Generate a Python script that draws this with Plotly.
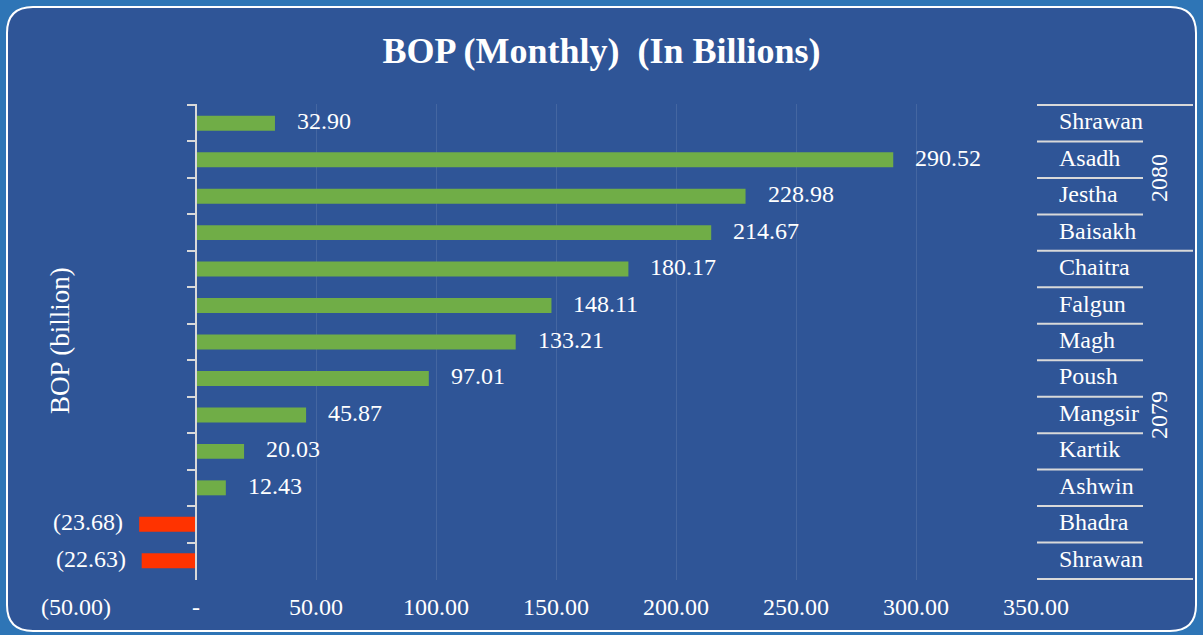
import plotly.graph_objects as go

# ---- data (top to bottom as shown) ----
months = ["Shrawan", "Asadh", "Jestha", "Baisakh", "Chaitra", "Falgun", "Magh",
          "Poush", "Mangsir", "Kartik", "Ashwin", "Bhadra", "Shrawan"]
years = ["2080", "2080", "2080", "2080", "2079", "2079", "2079",
         "2079", "2079", "2079", "2079", "2079", "2079"]
bop = [32.90, 290.52, 228.98, 214.67, 180.17, 148.11, 133.21,
       97.01, 45.87, 20.03, 12.43, -23.68, -22.63]
x_tickvals = [-50, 0, 50, 100, 150, 200, 250, 300, 350]
x_ticktext = ["(50.00)", "-", "50.00", "100.00", "150.00", "200.00", "250.00", "300.00", "350.00"]

W, H = 1203, 635
ML, MR, MT, MB = 76, 167, 104, 55
PW, PH = W - ML - MR, H - MT - MB

def px(x):
    return (x - ML) / PW

def py(y):
    return (H - MB - y) / PH

FONT = "Liberation Serif, Times New Roman, serif"
GREEN = "#70AD47"
RED = "#FF3300"
INNER = "#2F5597"
OUTER = "#2E75B6"
LINE = "#D9D9D9"

cats = [f"{m} {y}" for m, y in zip(months, years)]
colors = [GREEN if v >= 0 else RED for v in bop]
labels = [f"{v:.2f}" if v >= 0 else f"({abs(v):.2f})" for v in bop]

fig = go.Figure()
fig.add_trace(go.Bar(
    x=bop, y=cats, orientation="h", marker=dict(color=colors, line=dict(width=0)),
    width=0.41, hoverinfo="x+y", showlegend=False,
))

annotations = []
for c, v, t in zip(cats, bop, labels):
    annotations.append(dict(
        x=v, y=c, xref="x", yref="y", text=t, showarrow=False,
        xanchor="left" if v >= 0 else "right", yanchor="middle",
        xshift=20 if v >= 0 else -14, yshift=2,
        font=dict(family=FONT, size=24, color="white"),
    ))

# right-hand hierarchical category labels
for c, m in zip(cats, months):
    annotations.append(dict(
        x=px(1057), y=c, xref="paper", yref="y", text=m, showarrow=False,
        xanchor="left", yanchor="middle", yshift=2,
        font=dict(family=FONT, size=24, color="white"),
    ))

shapes = []
# background rounded panel
x0, y0, x1, y1, r = px(7), py(7), px(1196), py(631), 26
rx, ry = r / PW, r / PH
path = (f"M {x0+rx},{y0} L {x1-rx},{y0} Q {x1},{y0} {x1},{y0-ry} "
        f"L {x1},{y1+ry} Q {x1},{y1} {x1-rx},{y1} L {x0+rx},{y1} "
        f"Q {x0},{y1} {x0},{y1+ry} L {x0},{y0-ry} Q {x0},{y0} {x0+rx},{y0} Z")
shapes.append(dict(type="path", path=path, xref="paper", yref="paper",
                   fillcolor=INNER, line=dict(color="white", width=2), layer="below"))

n = len(cats)
group_bounds = {0, n}
for i in range(1, n):
    if years[i] != years[i - 1]:
        group_bounds.add(i)
for i in range(n + 1):
    long = i in group_bounds
    shapes.append(dict(type="line", xref="paper", yref="y",
                       x0=px(1037), x1=px(1193) if long else px(1143),
                       y0=i - 0.5, y1=i - 0.5,
                       line=dict(color=LINE, width=2), layer="above"))

# year labels
start = 0
for i in range(1, n + 1):
    if i == n or years[i] != years[start]:
        annotations.append(dict(
            x=px(1159), y=(start + i - 1) / 2, xref="paper", yref="y",
            text=years[start], showarrow=False, textangle=-90,
            xanchor="center", yanchor="middle",
            font=dict(family=FONT, size=24, color="white"),
        ))
        start = i

# y-axis title
annotations.append(dict(
    x=px(60), y=py(341), xref="paper", yref="paper", text="BOP (billion)",
    showarrow=False, textangle=-90, xanchor="center", yanchor="middle",
    font=dict(family=FONT, size=27, color="white"),
))

fig.update_layout(
    width=W, height=H,
    margin=dict(l=ML, r=MR, t=MT, b=MB),
    paper_bgcolor=OUTER, plot_bgcolor="rgba(0,0,0,0)",
    title=dict(text="<b>BOP (Monthly)  (In Billions)</b>", x=0.5, xref="container",
               xanchor="center", y=1 - 50 / H, yanchor="middle",
               font=dict(family=FONT, size=36, color="white")),
    xaxis=dict(range=[-50, 350], tickvals=x_tickvals, ticktext=x_ticktext,
               showgrid=True, gridcolor="rgba(255,255,255,0.10)", gridwidth=1,
               zeroline=False, showline=False, ticks="", ticklabelstandoff=10,
               tickfont=dict(family=FONT, size=24, color="white"), fixedrange=True),
    yaxis=dict(type="category", categoryorder="array", categoryarray=cats,
               autorange="reversed", anchor="free", position=px(196),
               showline=True, linecolor=LINE, linewidth=2,
               ticks="outside", tickson="boundaries", ticklen=8, tickcolor=LINE, tickwidth=2,
               showticklabels=False, showgrid=False, zeroline=False, fixedrange=True),
    bargap=0.59,
    shapes=shapes, annotations=annotations,
)

fig.write_html("out.html", config={"displayModeBar": False},
               post_script="document.body.style.margin='0';document.body.style.background='%s';" % OUTER)
